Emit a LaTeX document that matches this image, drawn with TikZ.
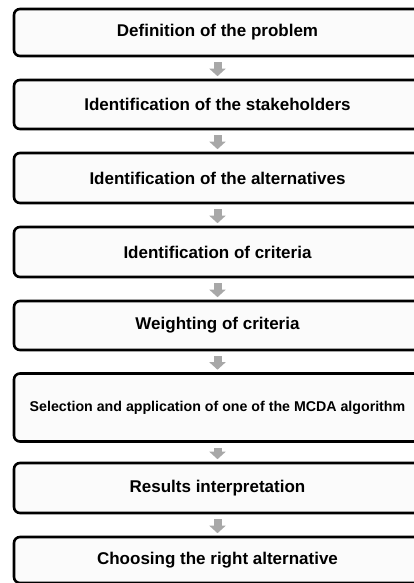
\documentclass[tikz,border=0pt]{standalone}
\usepackage{fontspec}
\setmainfont{Liberation Sans}
\usetikzlibrary{arrows.meta}
\definecolor{boxfill}{HTML}{FBFBFB}
\definecolor{arrowgray}{HTML}{A8A8A8}
\begin{document}
\begin{tikzpicture}[x=1pt,y=-1pt,
  stepbox/.style={draw=black, line width=2.6pt, rounded corners=6pt, fill=boxfill,
    minimum width=407pt, inner sep=0pt, font=\bfseries\fontsize{17}{20}\selectfont},
  flow/.style={draw=arrowgray, line width=8pt,
    -{Triangle[width=16pt,length=7.5pt]}, shorten <=5pt, shorten >=2.5pt}]
  \useasboundingbox (0,0) rectangle (413,583);
  % process steps, top to bottom
  \node[stepbox, minimum height=47pt] (s1) at (217.5,32.5) {Definition of the problem};
  \node[stepbox, minimum height=49pt] (s2) at (217.5,104.5) {Identification of the stakeholders};
  \node[stepbox, minimum height=50pt] (s3) at (217.5,178) {Identification of the alternatives};
  \node[stepbox, minimum height=50pt] (s4) at (217.5,252) {Identification of criteria};
  \node[stepbox, minimum height=49pt] (s5) at (217.5,325.5) {Weighting of criteria};
  \node[stepbox, minimum height=68pt, font=\bfseries\fontsize{14.2}{17}\selectfont] (s6) at (217.5,407.5) {Selection and application of one of the MCDA algorithm};
  \node[stepbox, minimum height=50pt] (s7) at (217.5,488) {Results interpretation};
  \node[stepbox, minimum height=46pt] (s8) at (217.5,560) {Choosing the right alternative};
  % connectors between consecutive steps
  \foreach \a/\b in {s1/s2,s2/s3,s3/s4,s4/s5,s5/s6,s6/s7,s7/s8}
    \draw[flow] (\a.south) -- (\b.north);
\end{tikzpicture}
\end{document}
